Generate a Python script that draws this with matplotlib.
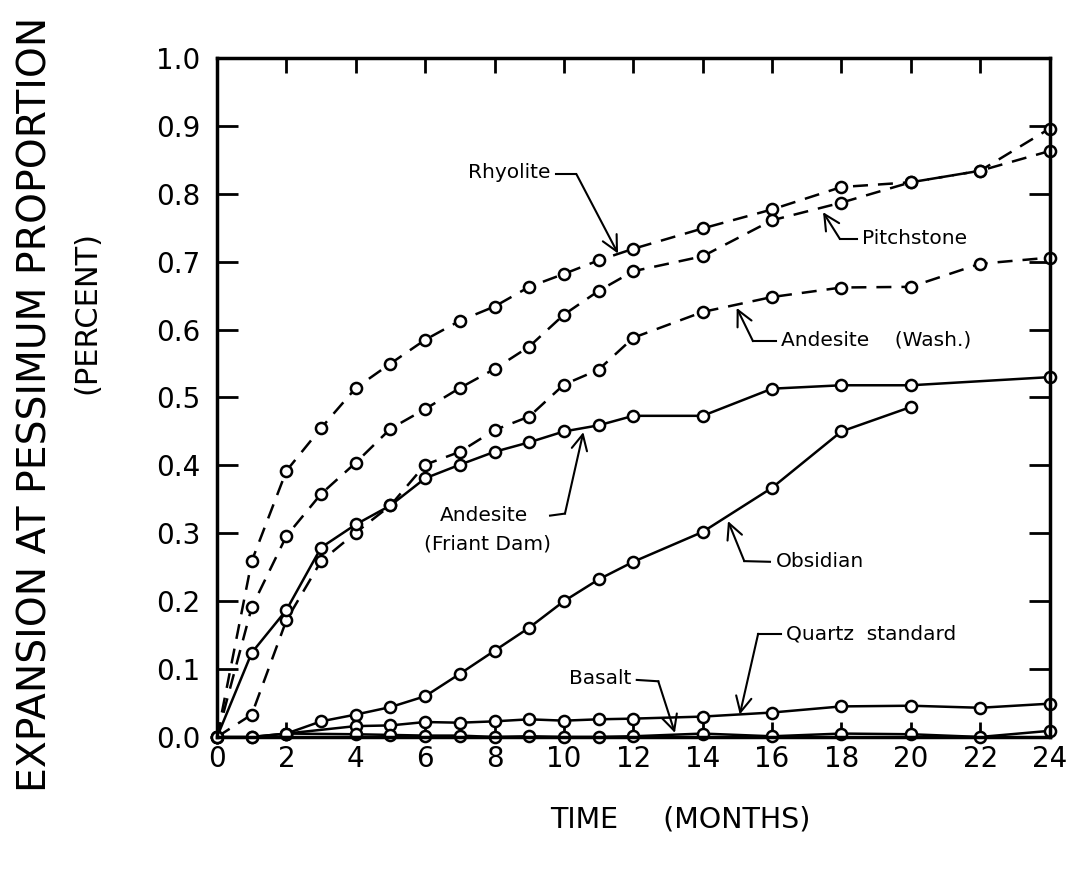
import numpy as np
import matplotlib
matplotlib.use("Agg")
import matplotlib.pyplot as plt

plt.rcParams['font.family'] = ['DejaVu Sans']

# expansion at pessimum proportion, percent, vs time in months
months_full = [0, 1, 2, 3, 4, 5, 6, 7, 8, 9, 10, 11, 12, 14, 16, 18, 20, 22, 24]

rhyolite = [0, 0.259, 0.392, 0.455, 0.514, 0.550, 0.585, 0.613, 0.634, 0.663,
            0.682, 0.702, 0.719, 0.749, 0.777, 0.810, 0.817, 0.834, 0.896]
pitchstone = [0, 0.191, 0.296, 0.358, 0.404, 0.454, 0.483, 0.514, 0.542, 0.575,
              0.622, 0.657, 0.686, 0.708, 0.761, 0.787, 0.817, 0.834, 0.863]
andesite_wash = [0, 0.033, 0.172, 0.259, 0.301, 0.341, 0.401, 0.420, 0.452, 0.472,
                 0.519, 0.541, 0.588, 0.626, 0.648, 0.662, 0.663, 0.697, 0.706]

months_friant = [0, 1, 2, 3, 4, 5, 6, 7, 8, 9, 10, 11, 12, 14, 16, 18, 20, 24]
andesite_friant = [0, 0.124, 0.187, 0.279, 0.313, 0.341, 0.381, 0.401, 0.420, 0.434,
                   0.450, 0.459, 0.473, 0.473, 0.513, 0.518, 0.518, 0.530]

months_obs = [0, 1, 2, 3, 4, 5, 6, 7, 8, 9, 10, 11, 12, 14, 16, 18, 20]
obsidian = [0, 0, 0.005, 0.023, 0.033, 0.044, 0.060, 0.093, 0.127, 0.161,
            0.200, 0.232, 0.258, 0.302, 0.367, 0.450, 0.486]

months_qtz = [2, 4, 5, 6, 7, 8, 9, 10, 11, 12, 14, 16, 18, 20, 22, 24]
quartz = [0.005, 0.016, 0.017, 0.022, 0.021, 0.023, 0.026, 0.024, 0.026, 0.027,
          0.030, 0.036, 0.045, 0.046, 0.043, 0.049]

months_bas = [1, 2, 4, 5, 6, 7, 8, 9, 10, 11, 12, 14, 16, 18, 20, 22, 24]
basalt = [0, 0.005, 0.004, 0.003, 0.002, 0.002, 0.0, 0.001, 0.0, 0.0,
          0.001, 0.005, 0.001, 0.005, 0.004, 0.0, 0.009]

fig = plt.figure(figsize=(10.82, 8.74), dpi=100)
ax = fig.add_axes([0.2006, 0.1568, 0.7694, 0.7768])

mk = dict(marker='o', markersize=8, markerfacecolor='white',
          markeredgecolor='black', markeredgewidth=1.8, color='black', lw=1.8,
          clip_on=False)
dash = (0, (6, 4))

ax.plot(months_full, rhyolite, ls=dash, **mk)
ax.plot(months_full, pitchstone, ls=dash, **mk)
ax.plot(months_full, andesite_wash, ls=dash, **mk)
ax.plot(months_friant, andesite_friant, ls='-', **mk)
ax.plot(months_obs, obsidian, ls='-', **mk)
ax.plot(months_qtz, quartz, ls='-', **mk)
ax.plot(months_bas, basalt, ls='-', **mk)

ax.set_xlim(0, 24)
ax.set_ylim(0, 1.0)
ax.set_xticks(np.arange(0, 25, 2))
ax.set_yticks(np.arange(0, 1.01, 0.1))
ax.set_yticklabels(['%.1f' % v for v in np.arange(0, 1.01, 0.1)])
ax.tick_params(direction='in', length=15, width=2, top=True, right=True,
               labelsize=20)
ax.tick_params(axis='y', pad=12)
ax.tick_params(axis='x', length=11, pad=6)
for s in ax.spines.values():
    s.set_linewidth(2.5)


def leader(text, pts, tx, ty, ha='left', va='center', fs=14.5):
    ax.text(tx, ty, text, ha=ha, va=va, fontsize=fs)
    xs = [p[0] for p in pts]
    ys = [p[1] for p in pts]
    ax.plot(xs[:-1], ys[:-1], color='black', lw=1.5)
    ax.annotate('', xy=pts[-1], xytext=pts[-2],
                arrowprops=dict(arrowstyle='->', lw=1.5, color='black',
                                mutation_scale=28, shrinkA=0, shrinkB=0))


leader('Rhyolite', [(9.76, 0.829), (10.36, 0.829), (11.56, 0.712)],
       9.6, 0.832, ha='right')
leader('Pitchstone', [(18.44, 0.734), (17.95, 0.734), (17.47, 0.773)],
       18.6, 0.734)
leader('Andesite    (Wash.)', [(16.1, 0.583), (15.45, 0.583), (14.98, 0.632)],
       16.25, 0.585)
leader('Andesite', [(9.6, 0.326), (10.03, 0.329), (10.56, 0.449)],
       7.7, 0.326, ha='center')
ax.text(7.8, 0.284, '(Friant Dam)', ha='center', va='center', fontsize=14.5)
leader('Obsidian', [(15.94, 0.258), (15.2, 0.259), (14.73, 0.318)],
       16.1, 0.258)
leader('Quartz  standard', [(16.27, 0.152), (15.6, 0.152), (15.07, 0.033)],
       16.4, 0.152)
leader('Basalt', [(12.1, 0.084), (12.72, 0.082), (13.2, 0.006)],
       11.95, 0.086, ha='right')

fig.text(0.033, 0.537, 'EXPANSION AT PESSIMUM PROPORTION', rotation=90,
         ha='center', va='center', fontsize=28.3)
fig.text(0.080, 0.642, '(PERCENT)', rotation=90, ha='center', va='center',
         fontsize=22)
fig.text(0.629, 0.062, 'TIME     (MONTHS)', ha='center', va='center',
         fontsize=20.5)

fig.savefig('out.png', dpi=100)
